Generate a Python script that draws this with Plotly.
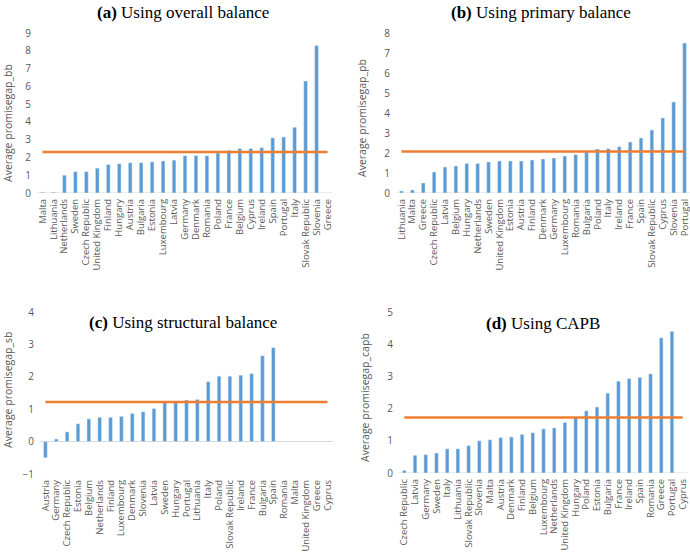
import plotly.graph_objects as go

# ---------------- data ----------------
cats_a = ["Malta", "Lithuania", "Netherlands", "Sweden", "Czech Republic", "United Kingdom",
          "Finland", "Hungary", "Austria", "Bulgaria", "Estonia", "Luxembourg", "Latvia",
          "Germany", "Denmark", "Romania", "Poland", "France", "Belgium", "Cyprus", "Ireland",
          "Spain", "Portugal", "Italy", "Slovak Republic", "Slovenia", "Greece"]
vals_a = [0.05, 0.05, 1.0, 1.2, 1.2, 1.4, 1.6, 1.65, 1.7, 1.7, 1.75, 1.8, 1.85,
          2.1, 2.1, 2.1, 2.25, 2.4, 2.5, 2.5, 2.55, 3.1, 3.15, 3.7, 6.3, 8.3, None]
avg_a = 2.3

cats_b = ["Lithuania", "Malta", "Greece", "Czech Republic", "Latvia", "Belgium", "Hungary",
          "Netherlands", "Sweden", "United Kingdom", "Estonia", "Austria", "Finland", "Denmark",
          "Germany", "Luxembourg", "Romania", "Bulgaria", "Poland", "Italy", "Ireland", "France",
          "Spain", "Slovak Republic", "Cyprus", "Slovenia", "Portugal"]
vals_b = [0.1, 0.15, 0.5, 1.05, 1.3, 1.35, 1.48, 1.48, 1.55, 1.6, 1.6, 1.6, 1.65, 1.7,
          1.75, 1.85, 1.92, 2.05, 2.2, 2.22, 2.32, 2.55, 2.75, 3.15, 3.75, 4.55, 7.5]
avg_b = 2.08

cats_c = ["Austria", "Germany", "Czech Republic", "Estonia", "Belgium", "Netherlands", "Finland",
          "Luxembourg", "Denmark", "Slovenia", "Latvia", "Sweden", "Hungary", "Portugal",
          "Lithuania", "Italy", "Poland", "Slovak Republic", "Ireland", "France", "Bulgaria",
          "Spain", "Romania", "Malta", "United Kingdom", "Greece", "Cyprus"]
vals_c = [-0.5, 0.08, 0.3, 0.55, 0.7, 0.75, 0.75, 0.78, 0.87, 0.92, 1.02, 1.2, 1.25, 1.28,
          1.3, 1.85, 2.02, 2.02, 2.05, 2.1, 2.65, 2.9, None, None, None, None, None]
avg_c = 1.22

cats_d = ["Czech Republic", "Latvia", "Germany", "Sweden", "Italy", "Lithuania", "Slovak Republic",
          "Slovenia", "Malta", "Austria", "Denmark", "Finland", "Belgium", "Luxembourg",
          "Netherlands", "United Kingdom", "Hungary", "Poland", "Estonia", "Bulgaria", "France",
          "Ireland", "Spain", "Romania", "Greece", "Portugal", "Cyprus"]
vals_d = [0.08, 0.55, 0.57, 0.62, 0.75, 0.75, 0.85, 1.0, 1.03, 1.1, 1.12, 1.2, 1.25, 1.37,
          1.4, 1.57, 1.72, 1.93, 2.05, 2.48, 2.85, 2.93, 2.97, 3.08, 4.2, 4.4, None]
avg_d = 1.72

titles = ["<b>(a)</b> Using overall balance", "<b>(b)</b> Using primary balance",
          "<b>(c)</b> Using structural balance", "<b>(d)</b> Using CAPB"]
ytitles = ["Average promisegap_bb", "Average promisegap_pb",
           "Average promisegap_sb", "Average promisegap_capb"]
yranges = [[0, 9], [0, 8], [-1, 4], [0, 5]]

# ---------------- layout helpers ----------------
W, H = 690, 553
BLUE = "#5B9BD5"
ORANGE = "#ED7D31"
GRAY = "#595959"
FONT = "Open Sans"

def px(x):
    return x / W

def py(y):
    return 1 - y / H

panels = [
    dict(cats=cats_a, vals=vals_a, avg=avg_a, xd=[37, 333], yd=[193, 33], tpos=(183, 13), ytpos=(8, 123)),
    dict(cats=cats_b, vals=vals_b, avg=avg_b, xd=[396, 690], yd=[193, 33], tpos=(541, 13), ytpos=(362, 118)),
    dict(cats=cats_c, vals=vals_c, avg=avg_c, xd=[40, 333], yd=[474, 312], tpos=(183, 322), ytpos=(8, 390)),
    dict(cats=cats_d, vals=vals_d, avg=avg_d, xd=[399, 688], yd=[473, 312], tpos=(543, 323), ytpos=(365, 398)),
]

fig = go.Figure()
layout = dict(width=W, height=H, margin=dict(l=0, r=0, t=0, b=0, autoexpand=False),
              paper_bgcolor="white", plot_bgcolor="white", showlegend=False,
              bargap=0.66, annotations=[], shapes=[])

for i, p in enumerate(panels):
    n = "" if i == 0 else str(i + 1)
    xa, ya = "x" + n, "y" + n
    fig.add_trace(go.Bar(x=p["cats"], y=p["vals"], marker_color=BLUE,
                         xaxis=xa, yaxis=ya, hoverinfo="x+y"))
    fig.add_trace(go.Scatter(x=p["cats"], y=[p["avg"]] * len(p["cats"]), mode="lines",
                             line=dict(color=ORANGE, width=2.5), xaxis=xa, yaxis=ya))
    layout["xaxis" + n] = dict(domain=[px(p["xd"][0]), px(p["xd"][1])], anchor=ya,
                               type="category", tickmode="linear", tick0=0, dtick=1,
                               tickangle=-90, showgrid=False, showline=False, automargin=False,
                               ticks="", ticklabelstandoff=3,
                               tickfont=dict(family=FONT, size=9.5, color=GRAY),
                               fixedrange=True)
    layout["yaxis" + n] = dict(domain=[py(p["yd"][0]), py(p["yd"][1])], anchor=xa,
                               range=yranges[i], dtick=1, showgrid=False, showline=False,
                               zeroline=(i == 2), zerolinecolor="#D9D9D9", zerolinewidth=1,
                               automargin=False, ticks="", ticklabelstandoff=5,
                               tickfont=dict(family=FONT, size=10, color=GRAY),
                               fixedrange=True)
    if i != 2:
        layout["shapes"].append(dict(type="line", xref=xa + " domain", yref=ya,
                                     x0=0, x1=1, y0=0, y1=0,
                                     line=dict(color="#D9D9D9", width=1), layer="below"))
    layout["annotations"].append(dict(
        text=titles[i], x=px(p["tpos"][0]), y=py(p["tpos"][1]), xref="paper", yref="paper",
        showarrow=False, xanchor="center", yanchor="middle",
        font=dict(family="Liberation Serif", size=17, color="black")))
    layout["annotations"].append(dict(
        text=ytitles[i], x=px(p["ytpos"][0]), y=py(p["ytpos"][1]), xref="paper", yref="paper",
        showarrow=False, xanchor="center", yanchor="middle", textangle=-90,
        font=dict(family=FONT, size=10.5, color=GRAY)))

fig.update_layout(**layout)
fig.write_html("out.html", config={"displayModeBar": False},
               post_script="document.body.style.margin='0';document.body.style.overflow='hidden';")
